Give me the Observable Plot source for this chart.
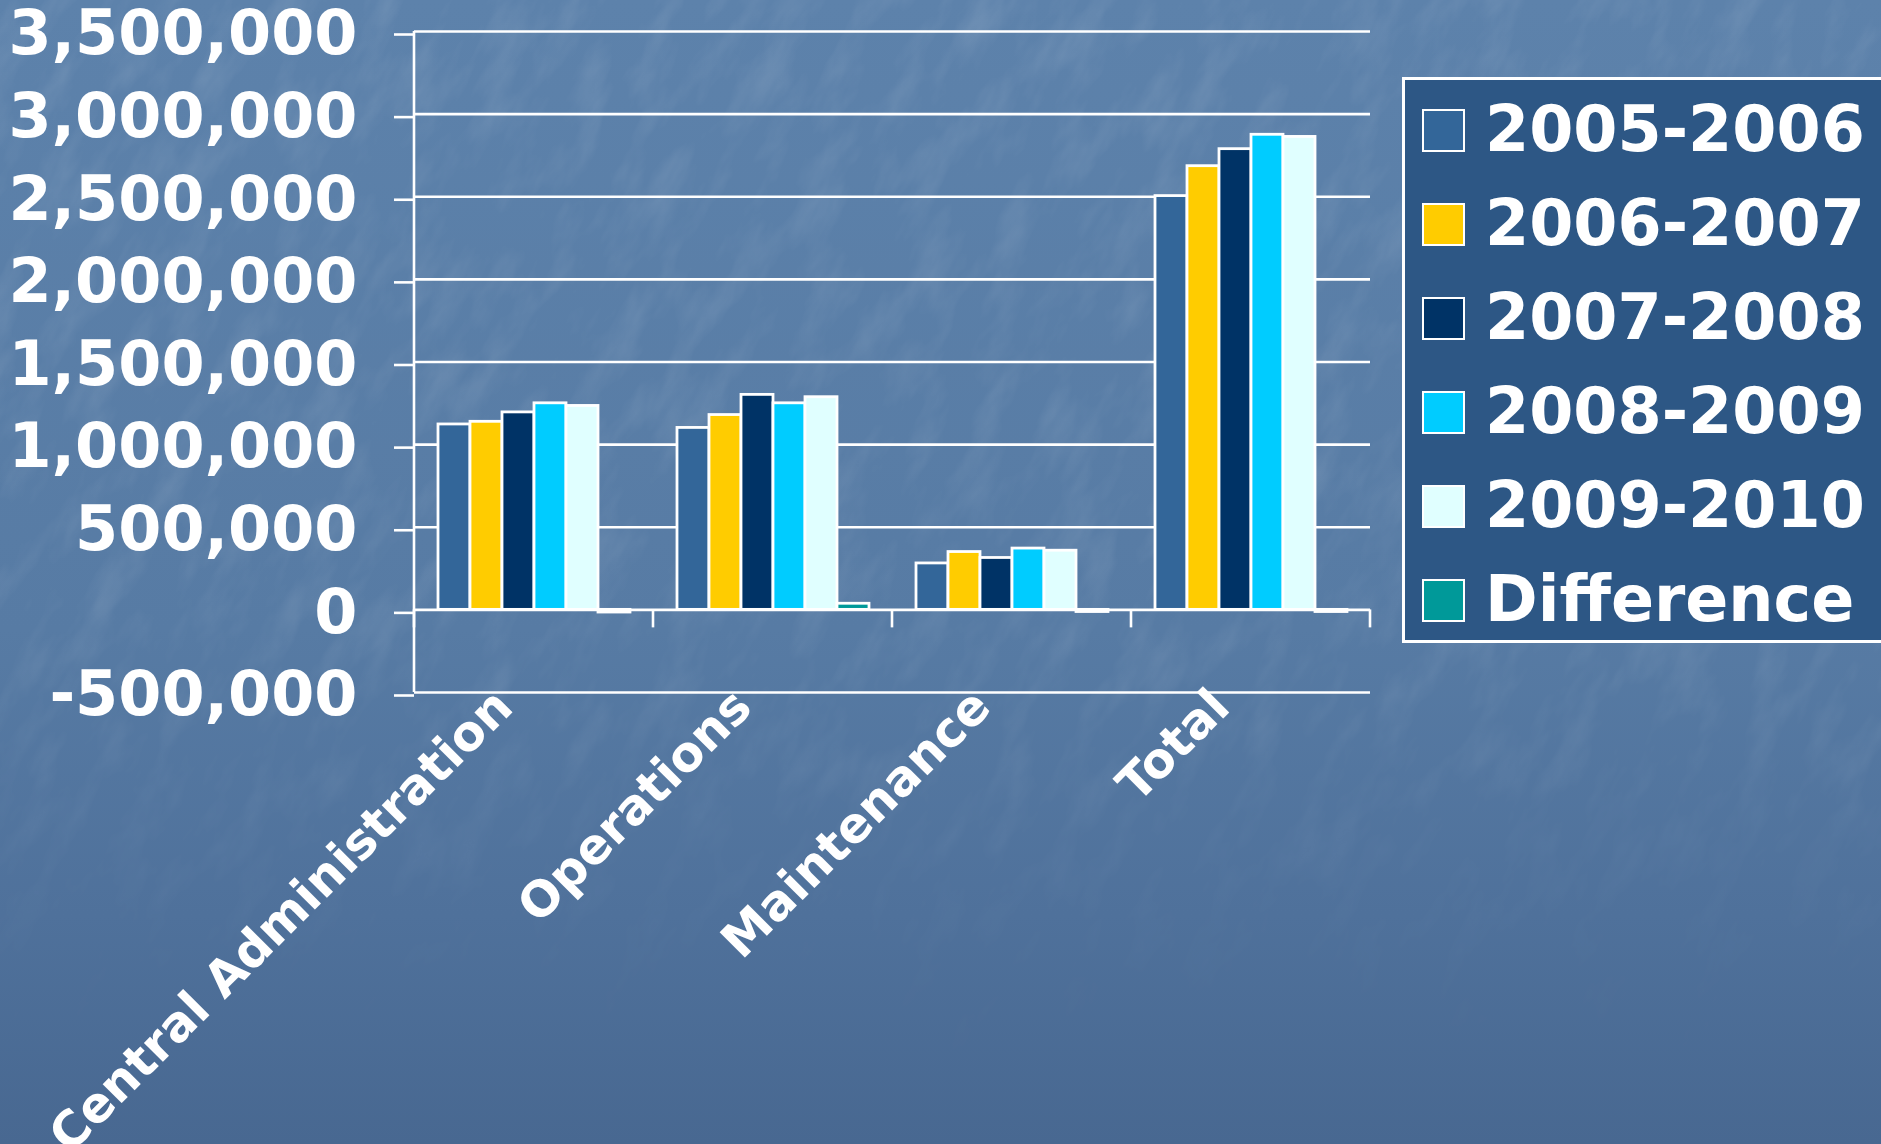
<!DOCTYPE html>
<html>
<head>
<meta charset="utf-8">
<script src="https://cdn.jsdelivr.net/npm/d3@7"></script>
<script src="https://cdn.jsdelivr.net/npm/@observablehq/plot@0.6"></script>
<style>
  html, body { margin: 0; padding: 0; width: 1881px; height: 1144px; overflow: hidden; }
  body { position: relative; background: #5a7ea7; font-family: "DejaVu Sans", sans-serif; }
  #bg { position: absolute; left: 0; top: 0; }
  #chart { position: absolute; left: 0; top: 0; }
  #legend {
    position: absolute; left: 1402px; top: 77px; width: 540px; height: 566px;
    box-sizing: border-box; background: #2d5785; border: 3px solid #ffffff;
    padding-top: 3px;
  }
  .row { height: 94px; display: flex; align-items: center; }
  .sw { width: 39px; height: 39px; border: 2px solid #ffffff; margin-left: 17px; margin-right: 20px; flex: none; }
  .lab { color: #ffffff; font-family: "DejaVu Sans", sans-serif; font-weight: bold; font-size: 63.5px; line-height: 1; white-space: nowrap; }
</style>
</head>
<body>
<svg id="bg" width="1881" height="1144">
  <defs>
    <linearGradient id="grad" x1="0" y1="0" x2="0" y2="1">
      <stop offset="0" stop-color="#5d82ab"/>
      <stop offset="0.55" stop-color="#577ba4"/>
      <stop offset="0.8" stop-color="#4f719b"/>
      <stop offset="1" stop-color="#486891"/>
    </linearGradient>
    <linearGradient id="fade" x1="0" y1="0" x2="0" y2="1">
      <stop offset="0" stop-color="#fff" stop-opacity="1"/>
      <stop offset="0.6" stop-color="#fff" stop-opacity="0.8"/>
      <stop offset="0.85" stop-color="#fff" stop-opacity="0.1"/>
      <stop offset="1" stop-color="#fff" stop-opacity="0"/>
    </linearGradient>
    <mask id="m"><rect width="1881" height="1144" fill="url(#fade)"/></mask>
    <filter id="tex" x="0" y="0" width="1" height="1">
      <feTurbulence type="fractalNoise" baseFrequency="0.012 0.03" numOctaves="4" seed="7"/>
      <feColorMatrix type="matrix" values="0 0 0 0 1  0 0 0 0 1  0 0 0 0 1  1.0 0 0 0 -0.45"/>
    </filter>
  </defs>
  <rect width="1881" height="1144" fill="url(#grad)"/>
  <g mask="url(#m)" opacity="0.22">
    <g transform="rotate(-62 940 572)">
      <rect x="-600" y="-600" width="3100" height="2400" filter="url(#tex)"/>
    </g>
  </g>
</svg>
<div id="chart"></div>
<div id="legend"></div>
<script>
// ---- data ----
const categories = ["Central Administration", "Operations", "Maintenance", "Total"];
const series = ["2005-2006", "2006-2007", "2007-2008", "2008-2009", "2009-2010", "Difference"];
const seriesColors = ["#336699", "#FFCC00", "#003366", "#00CCFF", "#E0FFFF", "#009999"];
const v2005_2006 = [1122000, 1101000, 281000, 2504000];
const v2006_2007 = [1138000, 1179000, 350000, 2685000];
const v2007_2008 = [1195000, 1301000, 314000, 2788000];
const v2008_2009 = [1250000, 1250000, 371000, 2875000];
const v2009_2010 = [1234000, 1287000, 358000, 2862000];
const vDifference = [-16000, 37000, -13000, -13000];
const yTicks = [-500000, 0, 500000, 1000000, 1500000, 2000000, 2500000, 3000000, 3500000];

const seriesValues = [v2005_2006, v2006_2007, v2007_2008, v2008_2009, v2009_2010, vDifference];
const rows = series.flatMap((s, i) => categories.map((c, j) => ({category: c, series: s, value: seriesValues[i][j]})));

const fmt = d => d.toLocaleString("en-US");

const plot = Plot.plot({
  width: 1881,
  height: 1144,
  marginLeft: 412,
  marginRight: 510,
  marginTop: 31,
  marginBottom: 452,
  style: {background: "transparent", color: "#ffffff", fontFamily: "DejaVu Sans", overflow: "visible"},
  fx: {domain: categories, padding: 0, label: null},
  x: {domain: series, paddingInner: 0, paddingOuter: 0.7, axis: null},
  y: {domain: [-500000, 3500000], label: null},
  color: {domain: series, range: seriesColors},
  marks: [
    Plot.gridY(yTicks, {stroke: "#ffffff", strokeOpacity: 1, strokeWidth: 2.6}),
    Plot.axisY(yTicks, {tickSize: 20, tickPadding: 37, tickFormat: fmt, fontSize: 62, fontWeight: "bold",
      strokeWidth: 2.6, label: null, dy: 3}),
    Plot.barY(rows, {fx: "category", x: "series", y: "value", fill: "series", stroke: "#ffffff", strokeWidth: 2.8}),
    Plot.axisFx({anchor: "bottom", tickSize: 0, tickPadding: 6, tickRotate: -45, fontSize: 49, fontWeight: "bold",
      label: null, dx: -30})
  ]
});
document.getElementById("chart").appendChild(plot);

// category-boundary ticks and left axis line, positioned with Plot's own scales
const fxs = plot.scale("fx"), ys = plot.scale("y");
const edges = categories.map(c => fxs.apply(c)).concat([fxs.apply(categories[categories.length - 1]) + fxs.bandwidth]);
const svg = d3.select(plot);
const g = svg.append("g").attr("stroke", "#ffffff").attr("stroke-width", 2.6);
g.append("line").attr("x1", edges[0]).attr("x2", edges[0])
  .attr("y1", ys.apply(yTicks[yTicks.length - 1])).attr("y2", ys.apply(yTicks[0]));
g.selectAll("line.tick").data(edges).join("line").attr("class", "tick")
  .attr("x1", d => d).attr("x2", d => d)
  .attr("y1", ys.apply(0)).attr("y2", ys.apply(0) + 18);

// legend
const legend = d3.select("#legend");
series.forEach((s, i) => {
  const row = legend.append("div").attr("class", "row");
  row.append("div").attr("class", "sw").style("background", seriesColors[i]);
  row.append("div").attr("class", "lab").text(s);
});
</script>
</body>
</html>
